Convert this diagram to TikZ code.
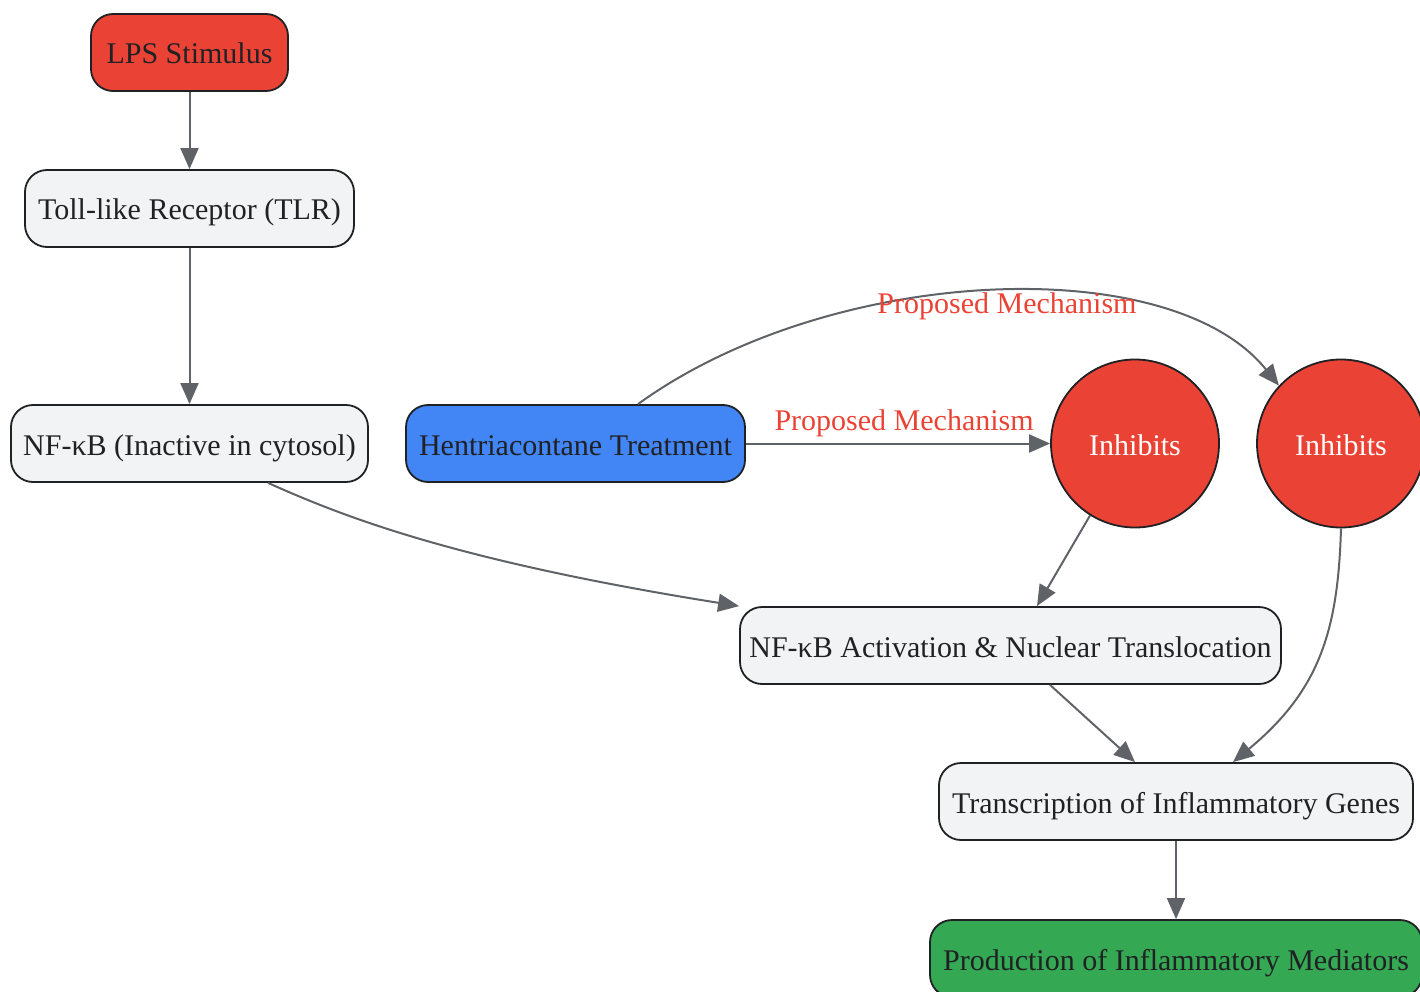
\documentclass[tikz,border=0pt]{standalone}
\usepackage{fontspec}
\setmainfont{Liberation Serif}
\usetikzlibrary{arrows.meta}
\definecolor{gred}{HTML}{EA4335}
\definecolor{gblue}{HTML}{4285F4}
\definecolor{ggreen}{HTML}{34A853}
\definecolor{ggray}{HTML}{F1F3F4}
\definecolor{edgec}{HTML}{5F6368}
\definecolor{bord}{HTML}{202124}
\tikzset{
  box/.style={draw=bord, line width=1.8pt, rounded corners=22pt, minimum height=77pt, inner sep=0pt, text=bord, font=\fontsize{30}{34}\selectfont, text height=24pt, text depth=1pt},
  graybox/.style={box, fill=ggray},
  circ/.style={circle, draw=bord, line width=1.8pt, fill=gred, minimum size=168pt, inner sep=0pt, text=white, font=\fontsize{30}{34}\selectfont, text height=24pt, text depth=1pt},
  arr/.style={draw=edgec, line width=2pt, -{Triangle[length=21pt,width=18pt]}},
  elabel/.style={text=gred, font=\fontsize{30}{34}\selectfont, inner sep=0pt}
}
\begin{document}
\begin{tikzpicture}[x=1pt,y=-1pt]
\useasboundingbox (0,0) rectangle (1420,992);
\node[box, fill=gred, minimum width=197pt] (lps) at (189.5,52.5) {LPS Stimulus};
\node[graybox, minimum width=329pt] (tlr) at (189.5,208.5) {Toll-like Receptor (TLR)};
\node[graybox, minimum width=357pt] (nfi) at (189.5,443.5) {NF-κB (Inactive in cytosol)};
\node[box, fill=gblue, minimum width=339pt] (hen) at (575.5,443.5) {Hentriacontane Treatment};
\node[circ] (inh1) at (1135,443.5) {Inhibits};
\node[circ] (inh2) at (1341,443.5) {Inhibits};
\node[graybox, minimum width=541pt] (act) at (1010.5,645.5) {NF-κB Activation \& Nuclear Translocation};
\node[graybox, minimum width=474pt] (tra) at (1176,801.5) {Transcription of Inflammatory Genes};
\node[box, fill=ggreen, minimum width=492pt] (pro) at (1176,958.5) {Production of Inflammatory Mediators};

\draw[arr] (lps) -- (tlr);
\draw[arr] (tlr) -- (nfi);
\draw[arr] ([xshift=78.5pt]nfi.south) .. controls (340,515) and (450,560) .. (act.north west);
\draw[arr] (hen.east) -- node[elabel, above=6pt, pos=0.52] (l1) {Proposed Mechanism} (inh1.west);
\draw[arr] ([xshift=62.5pt]hen.north) .. controls (830,265) and (1170,250) .. (inh2.137);
\node[elabel] (l2) at (1007,306) {Proposed Mechanism};
\draw[arr] (inh1.238) -- ([xshift=26.5pt]act.north);
\draw[arr] (inh2.south) .. controls (1338,630) and (1320,690) .. ([xshift=57pt]tra.north);
\draw[arr] ([xshift=39.5pt]act.south) -- ([xshift=-41pt]tra.north);
\draw[arr] (tra) -- (pro);
\end{tikzpicture}
\end{document}
